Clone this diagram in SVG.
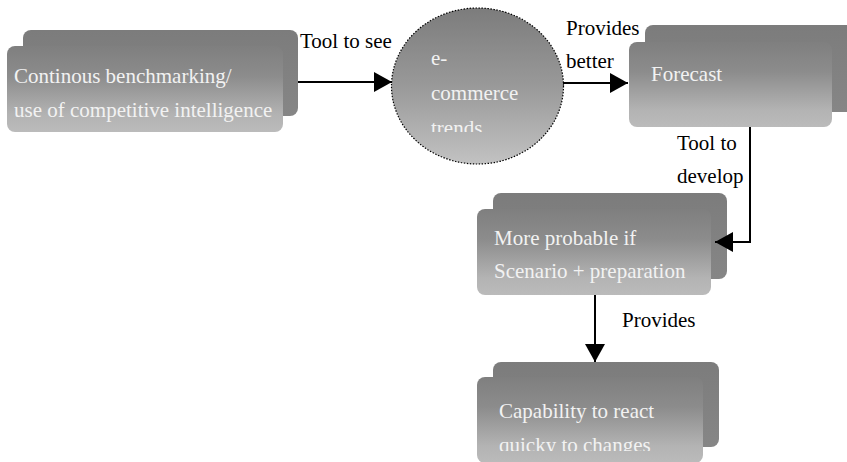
<svg xmlns="http://www.w3.org/2000/svg" width="847" height="462" viewBox="0 0 847 462">
<style>
text{font-family:"Liberation Serif","Times New Roman","DejaVu Serif",serif;font-size:21px}
.lbl{fill:#000}
.nt{fill:#f2f2f2}
.back{fill:url(#gb)}
.front{fill:url(#gf)}
.conn{stroke:#000;stroke-width:2;fill:none}
</style>
<defs>
<linearGradient id="gf" x1="0" y1="0" x2="0" y2="1">
<stop offset="0" stop-color="#7f7f7f"/>
<stop offset="0.35" stop-color="#8c8c8c"/>
<stop offset="0.8" stop-color="#b3b3b3"/>
<stop offset="1" stop-color="#bbbbbb"/>
</linearGradient>
<linearGradient id="gb" x1="0" y1="0" x2="0" y2="1">
<stop offset="0" stop-color="#7c7c7c"/>
<stop offset="1" stop-color="#868686"/>
</linearGradient>
<linearGradient id="gc" x1="0" y1="0" x2="0" y2="1">
<stop offset="0" stop-color="#7c7c7c"/>
<stop offset="0.5" stop-color="#999999"/>
<stop offset="1" stop-color="#c2c2c2"/>
</linearGradient>
<marker id="ah" viewBox="0 0 18 20" refX="18" refY="10" markerWidth="18" markerHeight="20" markerUnits="userSpaceOnUse" orient="auto">
<path d="M0,0 L18,10 L0,20 Z" fill="#000"/>
</marker>
<clipPath id="clipC"><rect x="380" y="0" width="200" height="132"/></clipPath>
<clipPath id="clipQ"><rect x="470" y="360" width="260" height="91"/></clipPath>
</defs>

<g id="node-benchmarking">
<rect class="back" x="23" y="30" width="275" height="86" rx="8"/>
<rect class="front" x="7" y="46" width="276" height="86" rx="8"/>
<text class="nt" x="14" y="83" font-family="Liberation Serif, serif">Continous benchmarking/</text>
<text class="nt" x="14" y="117" font-family="Liberation Serif, serif">use of competitive intelligence</text>
</g>

<g id="node-trends">
<ellipse cx="477.5" cy="86" rx="86" ry="78" fill="url(#gc)" stroke="#000" stroke-width="1.2" stroke-dasharray="1.5,1.5"/>
<g clip-path="url(#clipC)">
<text class="nt" x="431" y="65">e-</text>
<text class="nt" x="431" y="100">commerce</text>
<text class="nt" x="431" y="135">trends</text>
</g>
</g>

<g id="node-forecast">
<rect class="back" x="645" y="25" width="210" height="87" rx="8"/>
<rect class="front" x="629" y="42" width="203" height="85" rx="8"/>
<text class="nt" x="651" y="81">Forecast</text>
</g>

<g id="node-scenario">
<rect class="back" x="493" y="193" width="234" height="86" rx="8"/>
<rect class="front" x="477" y="209" width="234" height="86" rx="8"/>
<text class="nt" x="494" y="245">More probable if</text>
<text class="nt" x="494" y="278">Scenario + preparation</text>
</g>

<g id="node-capability">
<rect class="back" x="493" y="362" width="226" height="85" rx="8"/>
<rect class="front" x="477" y="377" width="226" height="86" rx="8"/>
<g clip-path="url(#clipQ)">
<text class="nt" x="499" y="418">Capability to react</text>
<text class="nt" x="499" y="452">quicky to changes</text>
</g>
</g>

<g id="connectors">
<line class="conn" x1="298" y1="82" x2="392" y2="82" marker-end="url(#ah)"/>
<line class="conn" x1="563" y1="83" x2="628" y2="83" marker-end="url(#ah)"/>
<polyline class="conn" points="750,127 750,242 715,242" marker-end="url(#ah)"/>
<line class="conn" x1="595" y1="295" x2="595" y2="362" marker-end="url(#ah)"/>
<text class="lbl" x="300" y="48">Tool to see</text>
<text class="lbl" x="566" y="35">Provides</text>
<text class="lbl" x="566" y="68">better</text>
<text class="lbl" x="677" y="150">Tool to</text>
<text class="lbl" x="677" y="183">develop</text>
<text class="lbl" x="622" y="327">Provides</text>
</g>
</svg>
